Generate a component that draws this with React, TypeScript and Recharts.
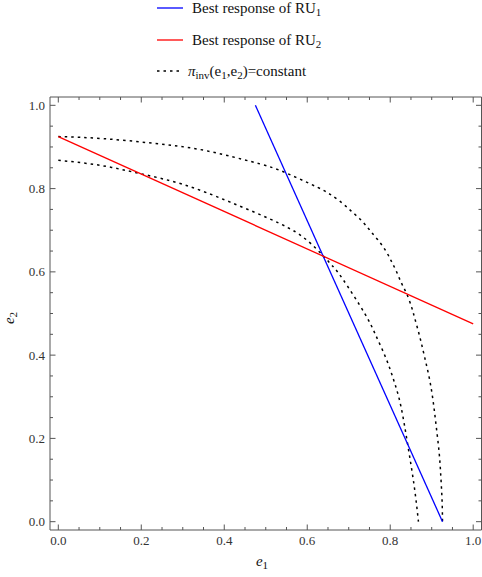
import React from 'react'
import { LineChart, Line, XAxis, YAxis, Legend } from 'recharts'

interface Pt {
  x: number
  y: number
}

// best response lines
const bestResponse1: Pt[] = [
  { x: 0.475, y: 1.0 },
  { x: 0.926, y: 0.0 }
]
const bestResponse2: Pt[] = [
  { x: 0.0, y: 0.925 },
  { x: 1.0, y: 0.475 }
]

// iso-profit curves
const isoOuter: Pt[] = [
  { x: 0.0, y: 0.925 },
  { x: 0.108, y: 0.92 },
  { x: 0.228, y: 0.909 },
  { x: 0.341, y: 0.894 },
  { x: 0.445, y: 0.87 },
  { x: 0.517, y: 0.85 },
  { x: 0.573, y: 0.827 },
  { x: 0.625, y: 0.803 },
  { x: 0.654, y: 0.787 },
  { x: 0.682, y: 0.767 },
  { x: 0.706, y: 0.746 },
  { x: 0.73, y: 0.724 },
  { x: 0.75, y: 0.701 },
  { x: 0.77, y: 0.677 },
  { x: 0.789, y: 0.651 },
  { x: 0.803, y: 0.625 },
  { x: 0.815, y: 0.601 },
  { x: 0.827, y: 0.573 },
  { x: 0.839, y: 0.549 },
  { x: 0.851, y: 0.517 },
  { x: 0.859, y: 0.489 },
  { x: 0.871, y: 0.445 },
  { x: 0.883, y: 0.395 },
  { x: 0.895, y: 0.341 },
  { x: 0.904, y: 0.285 },
  { x: 0.911, y: 0.228 },
  { x: 0.918, y: 0.165 },
  { x: 0.922, y: 0.108 },
  { x: 0.925, y: 0.05 },
  { x: 0.926, y: 0.0 }
]
const isoInner: Pt[] = [
  { x: 0.0, y: 0.868 },
  { x: 0.1, y: 0.856 },
  { x: 0.197, y: 0.836 },
  { x: 0.301, y: 0.81 },
  { x: 0.413, y: 0.768 },
  { x: 0.534, y: 0.716 },
  { x: 0.598, y: 0.677 },
  { x: 0.638, y: 0.639 },
  { x: 0.662, y: 0.613 },
  { x: 0.686, y: 0.582 },
  { x: 0.738, y: 0.501 },
  { x: 0.765, y: 0.448 },
  { x: 0.79, y: 0.392 },
  { x: 0.81, y: 0.335 },
  { x: 0.826, y: 0.276 },
  { x: 0.843, y: 0.18 },
  { x: 0.858, y: 0.084 },
  { x: 0.868, y: 0.0 }
]

const tickValues = [
  0, 0.05, 0.1, 0.15, 0.2, 0.25, 0.3, 0.35, 0.4, 0.45, 0.5,
  0.55, 0.6, 0.65, 0.7, 0.75, 0.8, 0.85, 0.9, 0.95, 1.0
]
const majorTicks = [0, 0.2, 0.4, 0.6, 0.8, 1.0]
const domain: [number, number] = [-0.02, 1.02]

const W = 482
const H = 577
const FRAME = { left: 50, top: 97, right: 481.5, bottom: 530 }
const FRAME_COLOR = '#555'
const TICK_COLOR = '#333'
const FONT = '"Liberation Serif", "DejaVu Serif", serif'

const isMajor = (v: number) => majorTicks.some((m) => Math.abs(m - v) < 1e-6)
const tickLen = (v: number) => (isMajor(v) ? 5.5 : 3)

function BottomTick(props: any) {
  const v = props.payload.value
  const x = props.x
  return (
    <g>
      <line x1={x} x2={x} y1={FRAME.bottom} y2={FRAME.bottom - tickLen(v)} stroke={FRAME_COLOR} />
      {isMajor(v) && (
        <text x={x} y={FRAME.bottom + 15} textAnchor="middle" fontSize={13} fontFamily={FONT} fill={TICK_COLOR}>
          {v.toFixed(1)}
        </text>
      )}
    </g>
  )
}

function TopTick(props: any) {
  const v = props.payload.value
  const x = props.x
  return <line x1={x} x2={x} y1={FRAME.top} y2={FRAME.top + tickLen(v)} stroke={FRAME_COLOR} />
}

function LeftTick(props: any) {
  const v = props.payload.value
  const y = props.y
  return (
    <g>
      <line x1={FRAME.left} x2={FRAME.left + tickLen(v)} y1={y} y2={y} stroke={FRAME_COLOR} />
      {isMajor(v) && (
        <text x={FRAME.left - 5} y={y + 4.5} textAnchor="end" fontSize={13} fontFamily={FONT} fill={TICK_COLOR}>
          {v.toFixed(1)}
        </text>
      )}
    </g>
  )
}

function RightTick(props: any) {
  const v = props.payload.value
  const y = props.y
  return <line x1={FRAME.right} x2={FRAME.right - tickLen(v)} y1={y} y2={y} stroke={FRAME_COLOR} />
}

function LegendBox() {
  const rows = [
    { y: 8, color: '#0000ff', sub: '1' },
    { y: 40, color: '#ff0000', sub: '2' }
  ]
  return (
    <svg width={W} height={90} style={{ display: 'block' }}>
      {rows.map((r) => (
        <g key={r.sub}>
          <line x1={157} x2={183} y1={r.y} y2={r.y} stroke={r.color} strokeWidth={1.3} />
          <text x={192} y={r.y + 5} fontSize={15} fontFamily={FONT} fill="#111">
            Best response of RU
            <tspan fontSize={11} dy={3}>{r.sub}</tspan>
          </text>
        </g>
      ))}
      <line x1={157} x2={183} y1={71} y2={71} stroke="#000" strokeWidth={1.5} strokeDasharray="2.5 4" />
      <text x={188} y={76} fontSize={15} fontFamily={FONT} fill="#111">
        <tspan fontStyle="italic">π</tspan>
        <tspan fontSize={11} dy={3}>inv</tspan>
        <tspan dy={-3}>(e</tspan>
        <tspan fontSize={11} dy={3}>1</tspan>
        <tspan dy={-3}>,e</tspan>
        <tspan fontSize={11} dy={3}>2</tspan>
        <tspan dy={-3}>)=constant</tspan>
      </text>
    </svg>
  )
}

export default function App(): React.ReactElement {
  return (
    <div style={{ position: 'absolute', left: 0, top: 0, width: W, height: H, background: '#fff' }}>
      <LineChart
        width={W}
        height={H}
        margin={{ top: FRAME.top - 1, left: FRAME.left - 1, right: W - FRAME.right - 1, bottom: H - FRAME.bottom - 1 }}
      >
        <XAxis
          xAxisId="b"
          dataKey="x"
          type="number"
          domain={domain}
          allowDataOverflow
          ticks={tickValues}
          interval={0}
          height={1}
          tickLine={false}
          axisLine={{ stroke: FRAME_COLOR }}
          tick={<BottomTick />}
          label={{
            content: () => (
              <text x={262} y={566} textAnchor="middle" fontSize={15} fontFamily={FONT} fill="#111">
                <tspan fontStyle="italic">e</tspan>
                <tspan fontSize={11} dy={3}>1</tspan>
              </text>
            )
          }}
        />
        <XAxis
          xAxisId="t"
          orientation="top"
          dataKey="x"
          type="number"
          domain={domain}
          allowDataOverflow
          ticks={tickValues}
          interval={0}
          height={1}
          tickLine={false}
          axisLine={{ stroke: FRAME_COLOR }}
          tick={<TopTick />}
        />
        <YAxis
          yAxisId="l"
          type="number"
          domain={domain}
          allowDataOverflow
          ticks={tickValues}
          interval={0}
          width={1}
          tickLine={false}
          axisLine={{ stroke: FRAME_COLOR }}
          tick={<LeftTick />}
          label={{
            content: () => (
              <text
                x={14}
                y={318}
                textAnchor="middle"
                fontSize={15}
                fontFamily={FONT}
                fill="#111"
                transform="rotate(-90 14 318)"
              >
                <tspan fontStyle="italic">e</tspan>
                <tspan fontSize={11} dy={3}>2</tspan>
              </text>
            )
          }}
        />
        <YAxis
          yAxisId="r"
          orientation="right"
          type="number"
          domain={domain}
          allowDataOverflow
          ticks={tickValues}
          interval={0}
          width={1}
          tickLine={false}
          axisLine={{ stroke: FRAME_COLOR }}
          tick={<RightTick />}
        />
        <Legend
          layout="horizontal"
          verticalAlign="middle"
          align="center"
          wrapperStyle={{ top: 0, left: 0, width: W }}
          content={() => <LegendBox />}
        />
        <Line
          xAxisId="b"
          yAxisId="l"
          data={isoOuter}
          dataKey="y"
          type="natural"
          stroke="#000"
          strokeWidth={1.5}
          strokeDasharray="2.5 4"
          dot={false}
          isAnimationActive={false}
        />
        <Line
          xAxisId="b"
          yAxisId="l"
          data={isoInner}
          dataKey="y"
          type="natural"
          stroke="#000"
          strokeWidth={1.5}
          strokeDasharray="2.5 4"
          dot={false}
          isAnimationActive={false}
        />
        <Line
          xAxisId="b"
          yAxisId="l"
          data={bestResponse1}
          dataKey="y"
          type="linear"
          stroke="#0000ff"
          strokeWidth={1.3}
          dot={false}
          isAnimationActive={false}
        />
        <Line
          xAxisId="b"
          yAxisId="l"
          data={bestResponse2}
          dataKey="y"
          type="linear"
          stroke="#ff0000"
          strokeWidth={1.3}
          dot={false}
          isAnimationActive={false}
        />
      </LineChart>
    </div>
  )
}
